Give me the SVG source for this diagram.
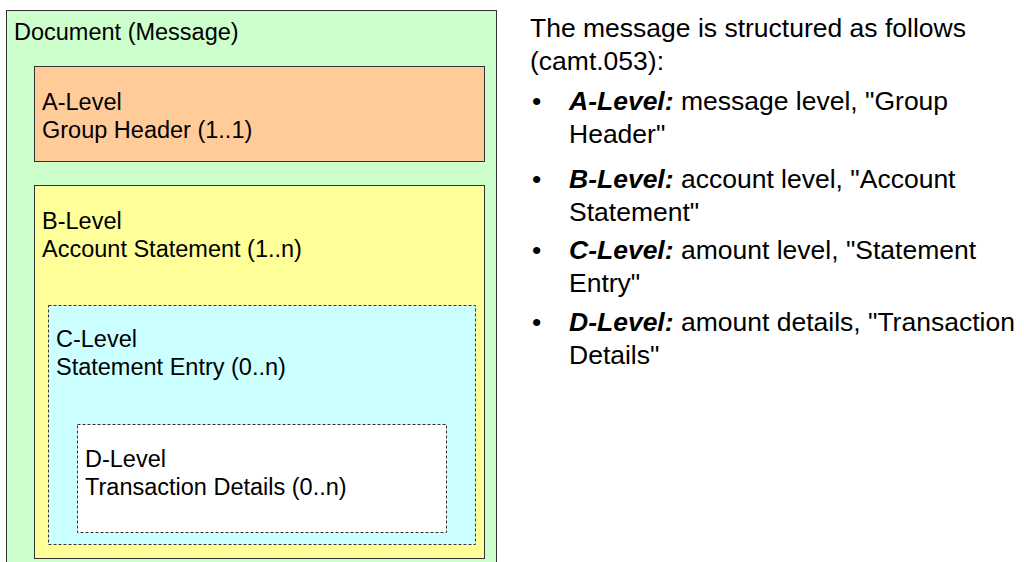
<svg xmlns="http://www.w3.org/2000/svg" width="1024" height="562" viewBox="0 0 1024 562">
<style>
.box{stroke:#333;stroke-width:1}
.dash{stroke:#333;stroke-width:1;stroke-dasharray:3 2}
.lt{font-family:"Liberation Sans",Arial,sans-serif;font-size:23.5px;fill:#000}
.rt{font-family:"Liberation Sans",Arial,sans-serif;font-size:26.5px;fill:#000}
.bi{font-weight:bold;font-style:italic}
</style>
<rect width="1024" height="562" fill="#fff"/>
<g id="document">
<rect class="box" x="6.5" y="10.5" width="490" height="560" fill="#CCFFCC"/>
<text class="lt" x="14" y="39.5">Document (Message)</text>
</g>
<g id="a-level">
<rect class="box" x="34.5" y="66.5" width="450" height="95" fill="#FFCC99"/>
<text class="lt" x="42" y="110">A-Level</text>
<text class="lt" x="42" y="137.5">Group Header (1..1)</text>
</g>
<g id="b-level">
<rect class="box" x="34.5" y="185.5" width="450" height="373" fill="#FFFF99"/>
<text class="lt" x="42" y="229">B-Level</text>
<text class="lt" x="42" y="257">Account Statement (1..n)</text>
</g>
<g id="c-level">
<rect class="dash" x="48.5" y="305.5" width="427" height="239" fill="#CCFFFF"/>
<text class="lt" x="56" y="347">C-Level</text>
<text class="lt" x="56" y="375">Statement Entry (0..n)</text>
</g>
<g id="d-level">
<rect class="dash" x="77.5" y="424.5" width="369" height="108" fill="#FFFFFF"/>
<text class="lt" x="85" y="467">D-Level</text>
<text class="lt" x="85" y="495">Transaction Details (0..n)</text>
</g>
<g id="connectors"></g>
<g id="description">
<text class="rt" x="530" y="37">The message is structured as follows</text>
<text class="rt" x="530" y="70">(camt.053):</text>
<text class="rt" x="532" y="110">•</text>
<text class="rt" x="569" y="110"><tspan class="bi">A-Level:</tspan> message level, "Group</text>
<text class="rt" x="569" y="143">Header"</text>
<text class="rt" x="532" y="188">•</text>
<text class="rt" x="569" y="188"><tspan class="bi">B-Level:</tspan> account level, "Account</text>
<text class="rt" x="569" y="221">Statement"</text>
<text class="rt" x="532" y="259">•</text>
<text class="rt" x="569" y="259"><tspan class="bi">C-Level:</tspan> amount level, "Statement</text>
<text class="rt" x="569" y="292">Entry"</text>
<text class="rt" x="532" y="331">•</text>
<text class="rt" x="569" y="331"><tspan class="bi">D-Level:</tspan> amount details, "Transaction</text>
<text class="rt" x="569" y="364">Details"</text>
</g>
</svg>
